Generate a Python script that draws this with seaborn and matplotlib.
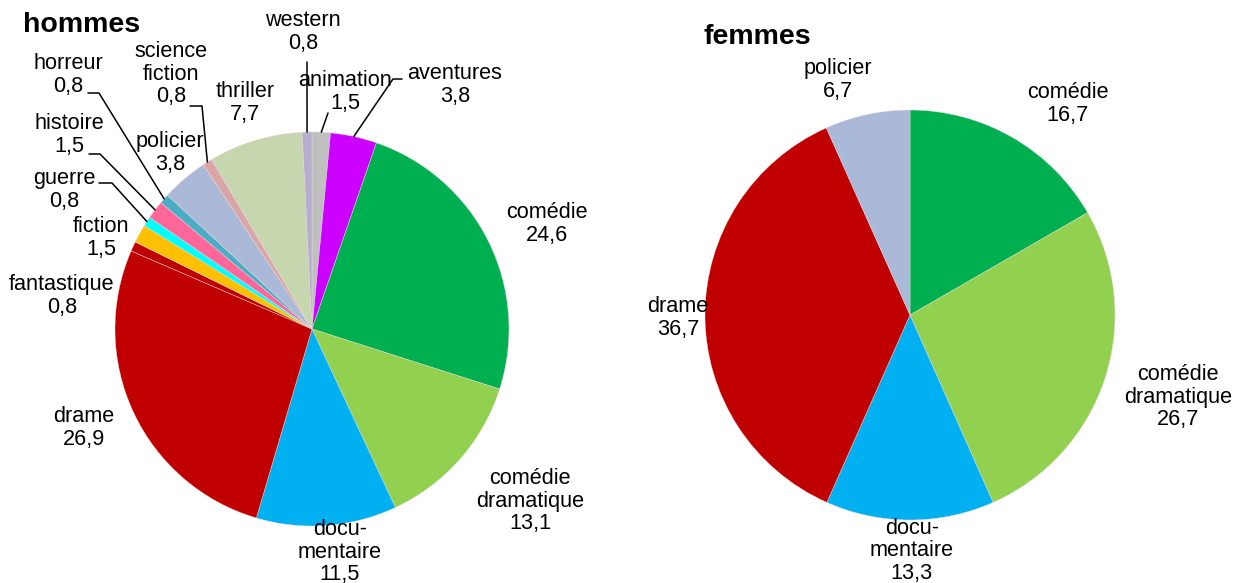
import numpy as np
import matplotlib.pyplot as plt
import seaborn as sns

# data
genres_h = ["animation", "aventures", "comédie", "comédie dramatique", "documentaire",
            "drame", "fantastique", "fiction", "guerre", "histoire", "horreur",
            "policier", "science fiction", "thriller", "western"]
values_h = [1.5, 3.8, 24.6, 13.1, 11.5, 26.9, 0.8, 1.5, 0.8, 1.5, 0.8, 3.8, 0.8, 7.7, 0.8]

genres_f = ["comédie", "comédie dramatique", "documentaire", "drame", "policier"]
values_f = [16.7, 26.7, 13.3, 36.7, 6.7]

label_text = {
    "animation": "animation", "aventures": "aventures", "comédie": "comédie",
    "comédie dramatique": "comédie\ndramatique", "documentaire": "docu-\nmentaire",
    "drame": "drame", "fantastique": "fantastique", "fiction": "fiction",
    "guerre": "guerre", "histoire": "histoire", "horreur": "horreur",
    "policier": "policier", "science fiction": "science\nfiction",
    "thriller": "thriller", "western": "western",
}

colors = {
    "animation": "#BFBFBF", "aventures": "#CC00FF", "comédie": "#00B050",
    "comédie dramatique": "#92D050", "documentaire": "#00B0F0", "drame": "#C00000",
    "fantastique": "#BE0000", "fiction": "#FFC000", "guerre": "#00FFFF",
    "histoire": "#FF6699", "horreur": "#4BACC6", "policier": "#AAB9D7",
    "science fiction": "#D9A6A8", "thriller": "#C6D6AE", "western": "#B7ADCF",
}

# layout, in pixels of the 1233x583 picture (y down)
W, H = 1233, 583
pie_h = dict(center=(312, 329), radius=197)
pie_f = dict(center=(910, 315), radius=205)

pos_h = {
    "western": (303, 32), "animation": (345, 92), "aventures": (455, 85),
    "comédie": (547, 224), "comédie dramatique": (530, 501), "documentaire": (340, 552),
    "drame": (84, 428), "fantastique": (62, 296), "fiction": (101, 238),
    "guerre": (64, 190), "histoire": (69, 135), "horreur": (68, 75),
    "policier": (170, 153), "science fiction": (171, 74), "thriller": (245, 103),
}
leaders_h = {
    "western": [(307, 62)],
    "animation": [(328, 113)],
    "aventures": [(402, 79), (393, 79)],
    "guerre": [(99, 183), (112, 183)],
    "histoire": [(89, 154), (100, 154)],
    "horreur": [(88, 93), (99, 93)],
    "science fiction": [(190, 106), (202, 106)],
}
pos_f = {
    "comédie": (1068, 104), "comédie dramatique": (1178, 397), "documentaire": (912, 551),
    "drame": (678, 318), "policier": (838, 80),
}


def px(x, y):
    return x, H - y


sns.set_theme(style="white")
plt.rcParams['font.family'] = ['Liberation Sans', 'DejaVu Sans']

fig = plt.figure(figsize=(W / 100, H / 100), dpi=100)
ax = fig.add_axes([0, 0, 1, 1])


def draw_pie(genres, values, pie, pos, leaders):
    cx, cy = px(*pie["center"])
    r = pie["radius"]
    wedges, _ = ax.pie(values, colors=[colors[g] for g in genres], startangle=90,
                       counterclock=False, center=(cx, cy), radius=r,
                       wedgeprops=dict(linewidth=0.3, edgecolor="#eadada"))
    for g, v, w in zip(genres, values, wedges):
        txt = label_text[g] + "\n" + f"{v:.1f}".replace(".", ",")
        x, y = px(*pos[g])
        ax.text(x, y, txt, ha="center", va="center", multialignment="center",
                fontsize=15.6, color="black", linespacing=1.12)
        if g in leaders:
            mid = np.deg2rad((w.theta1 + w.theta2) / 2)
            pts = [px(*p) for p in leaders[g]] + [(cx + r * np.cos(mid), cy + r * np.sin(mid))]
            xs, ys = zip(*pts)
            ax.plot(xs, ys, color="black", lw=1.1)


draw_pie(genres_h, values_h, pie_h, pos_h, leaders_h)
draw_pie(genres_f, values_f, pie_f, pos_f, {})

ax.text(*px(23, 25), "hommes", fontsize=20.5, fontweight="bold", color="black",
        ha="left", va="center")
ax.text(*px(704, 37), "femmes", fontsize=20.5, fontweight="bold", color="black",
        ha="left", va="center")

ax.set_xlim(0, W)
ax.set_ylim(0, H)
ax.set_aspect("equal")
ax.axis("off")

fig.savefig("out.png", dpi=100)
